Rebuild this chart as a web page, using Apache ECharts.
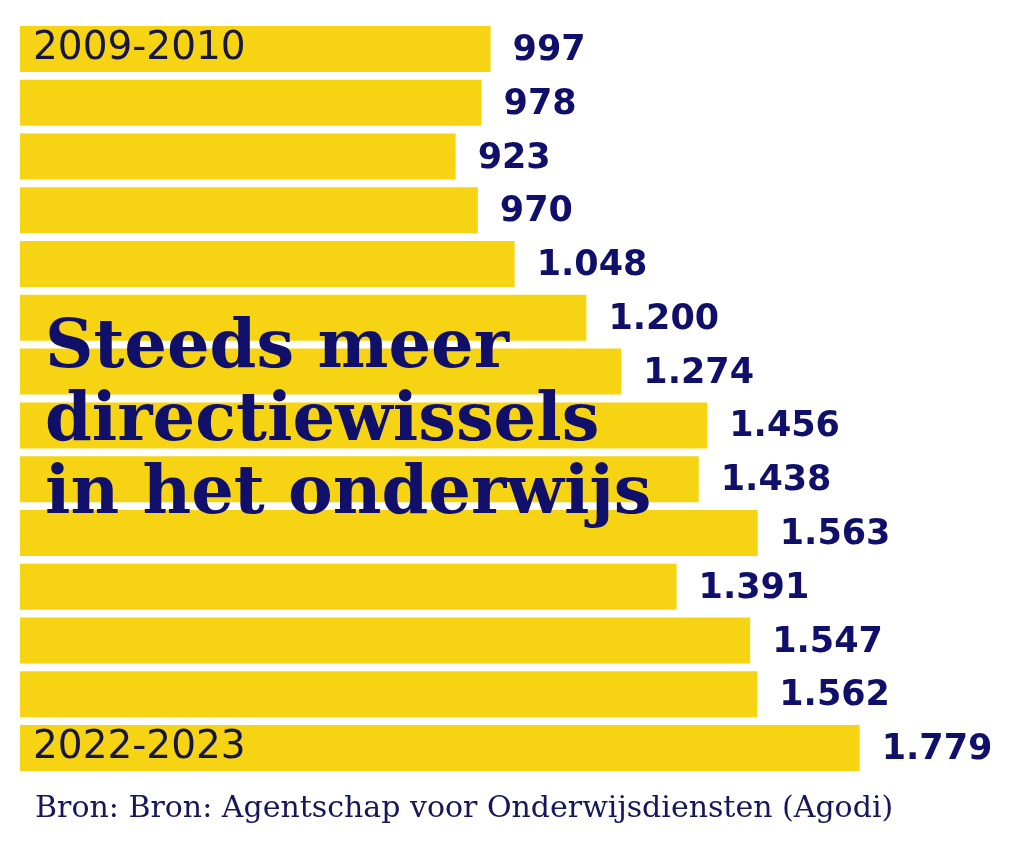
<!DOCTYPE html>
<html><head><meta charset="utf-8">
<script src="https://cdn.jsdelivr.net/npm/echarts@6/dist/echarts.min.js"></script>
<style>html,body{margin:0;padding:0;background:#fff}#c{width:1022px;height:853px}</style>
</head><body><div id="c"></div>
<script>
const categories = ['2009-2010','2010-2011','2011-2012','2012-2013','2013-2014','2014-2015','2015-2016','2016-2017','2017-2018','2018-2019','2019-2020','2020-2021','2021-2022','2022-2023'];
const values = [997, 978, 923, 970, 1048, 1200, 1274, 1456, 1438, 1563, 1391, 1547, 1562, 1779];
const shownYearLabels = ['2009-2010', '2022-2023'];
const titleText = 'Steeds meer\ndirectiewissels\nin het onderwijs';
const sourceText = 'Bron: Bron: Agentschap voor Onderwijsdiensten (Agodi)';

const fmt = v => v >= 1000 ? Math.floor(v/1000) + '.' + String(v%1000).padStart(3,'0') : String(v);

const chart = echarts.init(document.getElementById('c'));
chart.setOption({
  animation: false,
  backgroundColor: '#ffffff',
  title: [{
    text: titleText,
    left: 40, top: 308,
    z: 20,
    textStyle: {fontFamily: '"DejaVu Serif", serif', fontWeight: 'bold', fontSize: 67, lineHeight: 73, color: '#10106a'}
  }, {
    text: sourceText,
    left: 30, top: 789,
    textStyle: {fontFamily: '"DejaVu Serif", serif', fontWeight: 'normal', fontSize: 30, color: '#16165a'}
  }],
  grid: {left: 20, top: 22, height: 753, width: 944, containLabel: false},
  xAxis: {type: 'value', min: 0, max: 2000, show: false},
  yAxis: {
    type: 'category', data: categories, inverse: true, z: 10,
    axisLine: {show: false}, axisTick: {show: false},
    axisLabel: {
      inside: true, margin: 13, align: 'left',
      fontFamily: '"DejaVu Sans", sans-serif', fontSize: 39, color: '#16163f',
      formatter: v => shownYearLabels.includes(v) ? v : ''
    }
  },
  series: [{
    type: 'bar', data: values, barWidth: 46,
    itemStyle: {color: '#f6d414'},
    label: {
      show: true, position: 'right', distance: 22, offset: [0, 2],
      formatter: p => fmt(p.value),
      fontFamily: '"DejaVu Sans", sans-serif', fontWeight: 'bold', fontSize: 35, color: '#10106a'
    }
  }]
});
</script></body></html>
